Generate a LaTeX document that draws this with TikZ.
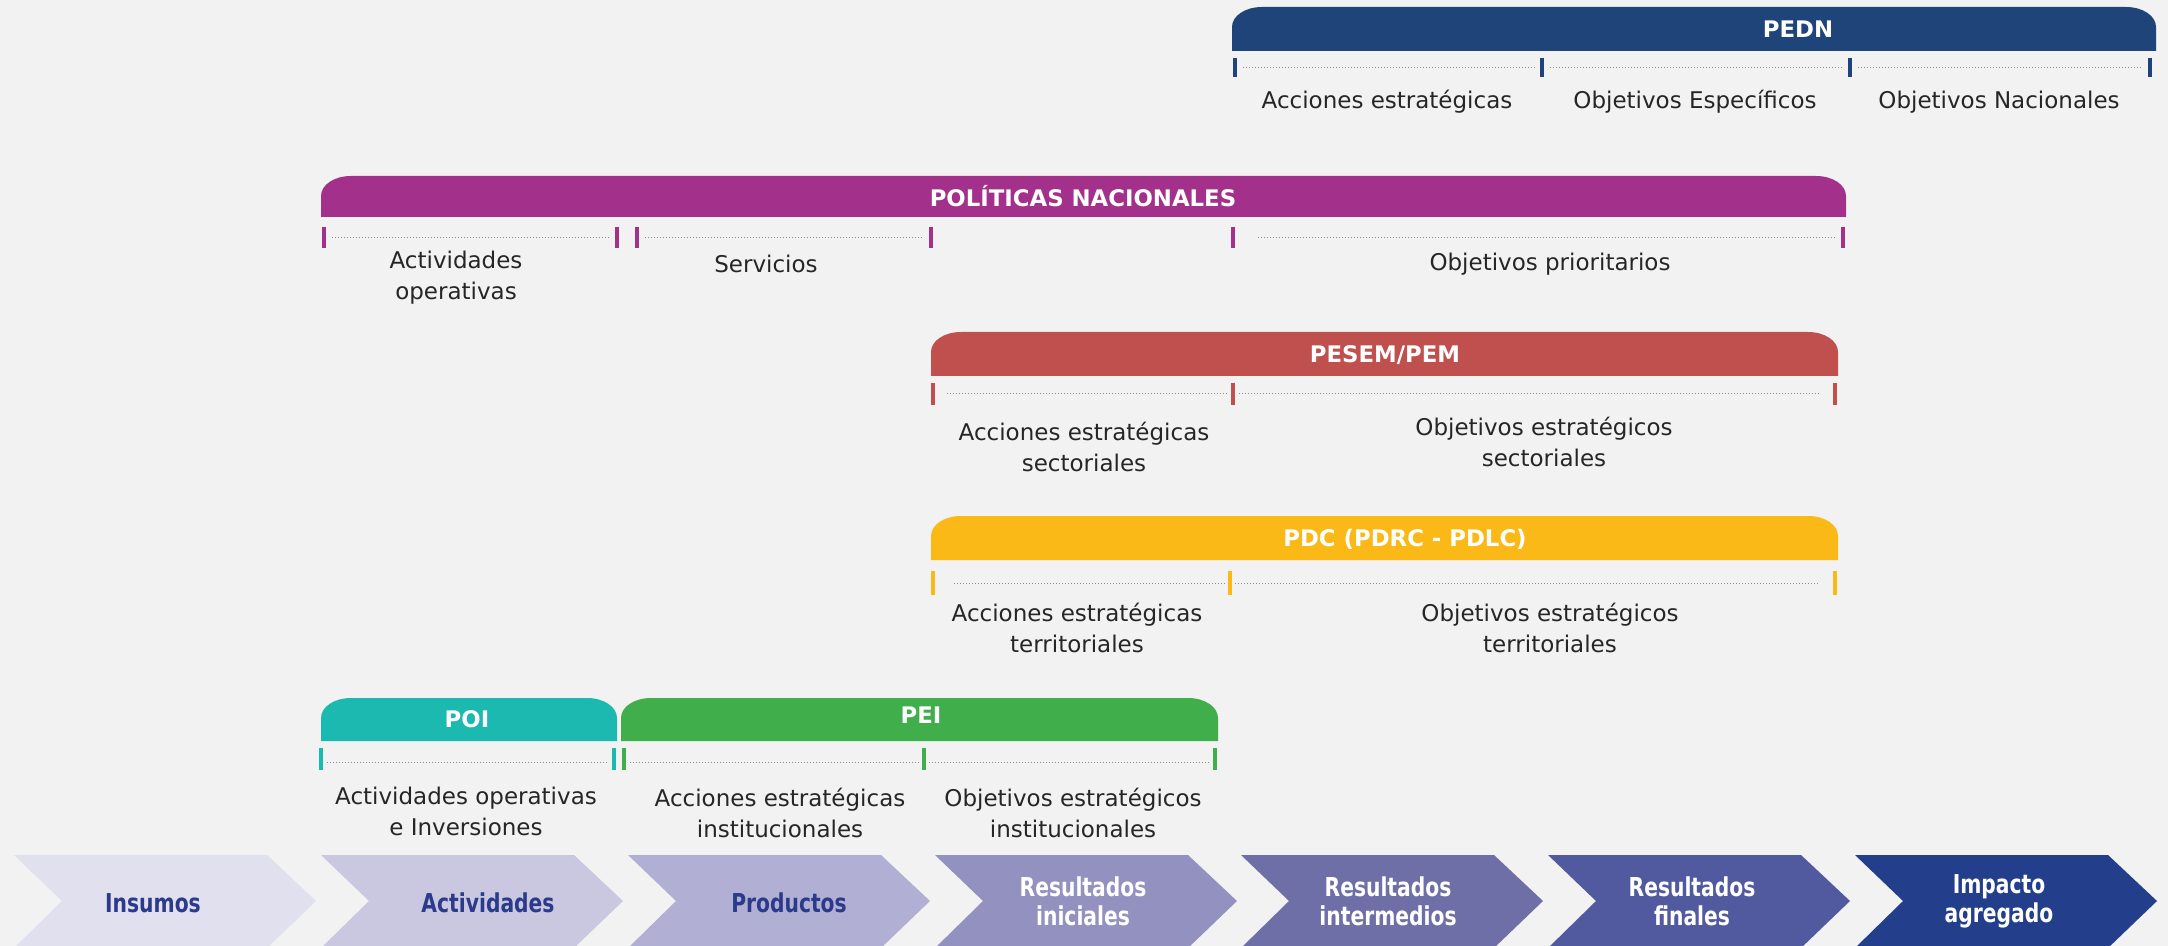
\documentclass[tikz,border=0pt]{standalone}
\usepackage{fontspec}
\setmainfont{DejaVu Sans}
\newfontfamily\chevfont[FakeStretch=0.78]{DejaVu Sans}
\definecolor{bg}{HTML}{F2F2F2}
\definecolor{pedn}{HTML}{1F4479}
\definecolor{pol}{HTML}{A3308B}
\definecolor{pesem}{HTML}{C0504D}
\definecolor{pdc}{HTML}{FBB917}
\definecolor{poi}{HTML}{1CB9B1}
\definecolor{pei}{HTML}{40AE4A}
\definecolor{lbl}{HTML}{262626}
\definecolor{chtext}{HTML}{2B3A8A}
\definecolor{cA}{HTML}{E0E0EE}
\definecolor{cB}{HTML}{CAC8E0}
\definecolor{cC}{HTML}{B1B0D4}
\definecolor{cD}{HTML}{9391C0}
\definecolor{cE}{HTML}{6F6FA8}
\definecolor{cF}{HTML}{515A9E}
\definecolor{cG}{HTML}{233E8B}
\newcommand{\headbar}[5]{%
  \fill[#5] (#1,#4) -- (#1,#3+20) .. controls (#1,#3+9) and (#1+13,#3) .. (#1+30,#3)
    -- (#2-30,#3) .. controls (#2-13,#3) and (#2,#3+9) .. (#2,#3+20) -- (#2,#4) -- cycle;}
\newcommand{\chevshape}[2]{%
  \fill[#2] (#1,855) -- (#1+253,855) -- (#1+302,901) -- (#1+253,948) -- (#1,948) -- (#1+48,901) -- cycle;}
\tikzset{
  lab/.style={text=lbl, font=\fontsize{11.5}{15.5}\selectfont, align=center, inner sep=0pt},
  head/.style={text=white, font=\bfseries\fontsize{11.4}{14}\selectfont, inner sep=0pt},
  chevdark/.style={text=chtext, font=\chevfont\bfseries\fontsize{13}{14.5}\selectfont, align=center, inner sep=0pt},
  chevlight/.style={text=white, font=\chevfont\bfseries\fontsize{13}{14.5}\selectfont, align=center, inner sep=0pt},
  tickmark/.style={line width=2pt},
  dotline/.style={draw=black!45, densely dotted, line width=0.5pt}
}
\begin{document}
\begin{tikzpicture}[x=0.5pt,y=-0.5pt]
\fill[bg] (0,0) rectangle (2168,946);
\useasboundingbox (0,0) rectangle (2168,946);

% ---------- PEDN ----------
\headbar{1232}{2156}{7}{51}{pedn}
\node[head] (hpedn) at (1798,29) {PEDN};
\foreach \x in {1235,1542,1850,2150} \draw[pedn,tickmark] (\x,58) -- (\x,77);
\draw[dotline] (1243,68) -- (1535,68);
\draw[dotline] (1550,68) -- (1843,68);
\draw[dotline] (1858,68) -- (2143,68);
\node[lab] (p1) at (1387,102) {Acciones estratégicas};
\node[lab] (p2) at (1695,102) {Objetivos Específicos};
\node[lab] (p3) at (1999,102) {Objetivos Nacionales};

% ---------- POLITICAS NACIONALES ----------
\headbar{321}{1846}{176}{217}{pol}
\node[head] (hpol) at (1083,196) {POLÍTICAS NACIONALES};
\foreach \x in {324,617,637,931,1233,1843} \draw[pol,tickmark] (\x,227) -- (\x,248);
\draw[dotline] (332,238) -- (610,238);
\draw[dotline] (645,238) -- (924,238);
\draw[dotline] (1258,238) -- (1836,238);
\node[lab] (n1) at (456,278) {Actividades\\operativas};
\node[lab] (n2) at (766,264) {Servicios};
\node[lab] (n3) at (1550,264) {Objetivos prioritarios};

% ---------- PESEM/PEM ----------
\headbar{931}{1838}{332}{376}{pesem}
\node[head] (hpesem) at (1385,355) {PESEM/PEM};
\foreach \x in {933,1233,1835} \draw[pesem,tickmark] (\x,383) -- (\x,405);
\draw[dotline] (947,394) -- (1227,394);
\draw[dotline] (1239,394) -- (1819,394);
\node[lab] (s1) at (1084,447) {Acciones estratégicas\\sectoriales};
\node[lab] (s2) at (1544,442) {Objetivos estratégicos\\sectoriales};

% ---------- PDC ----------
\headbar{931}{1838}{516}{560}{pdc}
\node[head] (hpdc) at (1405,539) {PDC (PDRC - PDLC)};
\foreach \x in {933,1230,1835} \draw[pdc,tickmark] (\x,571) -- (\x,595);
\draw[dotline] (954,583) -- (1226,583);
\draw[dotline] (1235,583) -- (1820,583);
\node[lab] (t1) at (1077,628) {Acciones estratégicas\\territoriales};
\node[lab] (t2) at (1550,628) {Objetivos estratégicos\\territoriales};

% ---------- POI ----------
\headbar{321}{617}{698}{741}{poi}
\node[head] (hpoi) at (467,719) {POI};
\foreach \x in {321,614} \draw[poi,tickmark] (\x,748) -- (\x,770);
\draw[dotline] (327,762) -- (608,762);
\node[lab] (o1) at (466,811) {Actividades operativas\\e Inversiones};

% ---------- PEI ----------
\headbar{621}{1218}{698}{741}{pei}
\node[head] (hpei) at (921,715) {PEI};
\foreach \x in {624,924,1215} \draw[pei,tickmark] (\x,748) -- (\x,770);
\draw[dotline] (630,762) -- (919,762);
\draw[dotline] (929,762) -- (1209,762);
\node[lab] (e1) at (780,813) {Acciones estratégicas\\institucionales};
\node[lab] (e2) at (1073,813) {Objetivos estratégicos\\institucionales};

% ---------- Chevrons ----------
\chevshape{14}{cA}
\chevshape{321}{cB}
\chevshape{628}{cC}
\chevshape{935}{cD}
\chevshape{1241}{cE}
\chevshape{1548}{cF}
\chevshape{1855}{cG}
\node[chevdark] (k1) at (153,903) {Insumos};
\node[chevdark] (k2) at (488,903) {Actividades};
\node[chevdark] (k3) at (789,903) {Productos};
\node[chevlight] (k4) at (1083,901) {Resultados\\iniciales};
\node[chevlight] (k5) at (1388,901) {Resultados\\intermedios};
\node[chevlight] (k6) at (1692,901) {Resultados\\finales};
\node[chevlight] (k7) at (1999,901) {Impacto\\agregado};
\end{tikzpicture}
\end{document}
